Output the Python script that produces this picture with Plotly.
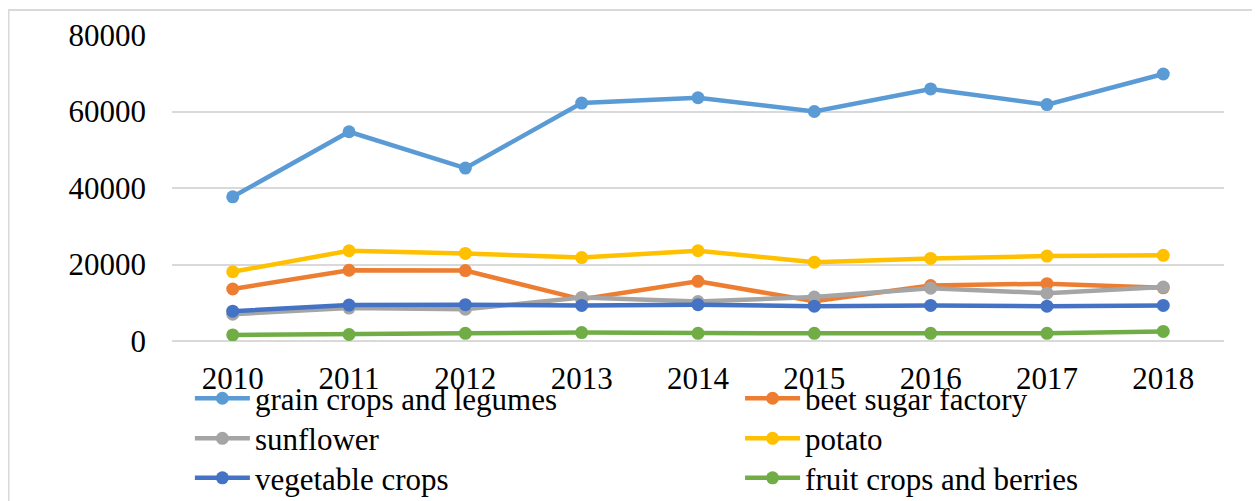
import plotly.graph_objects as go

# ── Data ──────────────────────────────────────────────────────────────────────
YEARS = ["2010", "2011", "2012", "2013", "2014", "2015", "2016", "2017", "2018"]

GRAIN = [37700, 54700, 45200, 62200, 63600, 60000, 65900, 61800, 69800]
BEET = [13600, 18500, 18400, 10900, 15600, 10400, 14500, 15000, 13900]
SUNFLOWER = [7000, 8600, 8300, 11400, 10300, 11500, 13800, 12500, 14100]
POTATO = [18100, 23600, 22900, 21800, 23600, 20600, 21600, 22200, 22400]
VEGETABLE = [7800, 9400, 9500, 9300, 9500, 9100, 9300, 9100, 9300]
FRUIT = [1600, 1700, 2000, 2200, 2000, 2000, 2000, 2000, 2500]

Y_TICKS = [0, 20000, 40000, 60000, 80000]

# ── Style ─────────────────────────────────────────────────────────────────────
FONT = "Liberation Serif, Times New Roman, serif"
FS = 31
GRID = "#D9D9D9"

# (name, values, colour) in Excel series order
SERIES = [
    ("grain crops and legumes", GRAIN, "#5B9BD5"),
    ("beet sugar factory", BEET, "#ED7D31"),
    ("sunflower", SUNFLOWER, "#A5A5A5"),
    ("potato", POTATO, "#FFC000"),
    ("vegetable crops", VEGETABLE, "#4472C4"),
    ("fruit crops and berries", FRUIT, "#70AD47"),
]

# legend grid: two columns, three rows (one small legend per entry)
LEG_X = [0.017, 0.540]
LEG_Y = [-0.100, -0.231, -0.360]

fig = go.Figure()
legends = {}
for i, (name, vals, color) in enumerate(SERIES):
    key = "legend" if i == 0 else f"legend{i + 1}"
    fig.add_trace(go.Scatter(
        x=YEARS, y=vals,
        mode="lines+markers",
        name=name,
        legend=key,
        line=dict(color=color, width=4.5),
        marker=dict(color=color, size=13),
    ))
    legends[key] = dict(
        x=LEG_X[i % 2],
        y=LEG_Y[i // 2],
        orientation="v",
        yanchor="top",
        xanchor="left",
        itemwidth=55,
        font=dict(family=FONT, size=FS, color="black"),
        bgcolor="rgba(0,0,0,0)",
        borderwidth=0,
    )

# outer chart border (light gray frame)
fig.add_shape(
    type="rect", xref="paper", yref="paper",
    x0=-0.1554, x1=1.06, y0=-0.6, y1=1.082,
    line=dict(color=GRID, width=2), layer="below",
)

fig.update_layout(
    width=1252,
    height=493,
    paper_bgcolor="white",
    plot_bgcolor="white",
    font=dict(family=FONT, size=FS, color="black"),
    margin=dict(l=164, r=36, t=27, b=160, autoexpand=False),
    xaxis=dict(
        type="category",
        showgrid=False,
        zeroline=False,
        showline=False,
        ticks="",
        ticklabelstandoff=16,
    ),
    yaxis=dict(
        range=[0, 80000],
        tickvals=Y_TICKS,
        ticktext=[str(v) for v in Y_TICKS],
        showgrid=True,
        gridcolor=GRID,
        gridwidth=2,
        zeroline=True,
        zerolinecolor=GRID,
        zerolinewidth=2,
        showline=False,
        ticks="",
        ticklabelstandoff=25,
    ),
    showlegend=True,
    **legends,
)

fig.write_html("out.html")
